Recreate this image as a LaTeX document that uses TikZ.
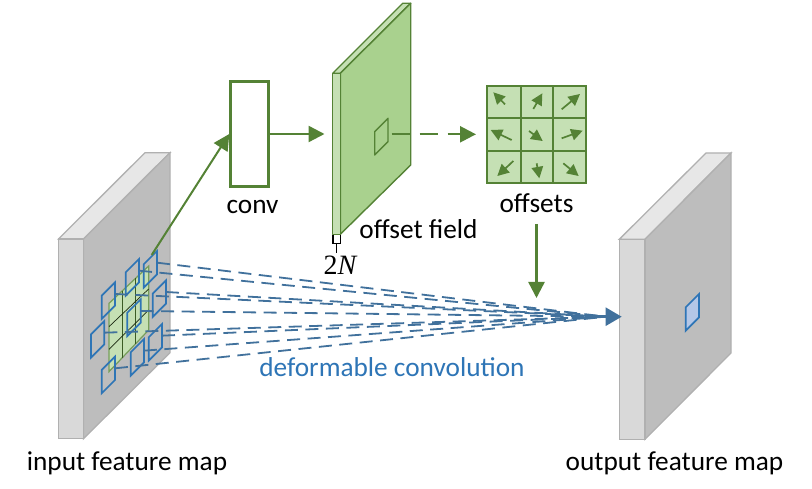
\documentclass[tikz,border=0pt]{standalone}
\usepackage{fontspec}
\setmainfont{Carlito}
\newfontfamily\serifnum{Liberation Serif}
\usetikzlibrary{arrows.meta,calc}
\definecolor{gridgreen}{HTML}{548235}
\definecolor{palegreen}{HTML}{C5E0B4}
\definecolor{midgreen}{HTML}{A9D18E}
\definecolor{frameblue}{HTML}{2E75B6}
\definecolor{rayblue}{HTML}{41719C}
\definecolor{paleblue}{HTML}{B4C7E7}
\tikzset{
  every node/.style={inner sep=0pt},
  label text/.style={font=\fontsize{27.3}{27.3}\selectfont, anchor=base, text=black},
  slab front/.style={draw=black!31, line width=1.3, fill=black!15},
  slab top/.style={draw=black!31, line width=1.3, fill=black!9.5},
  slab side/.style={draw=black!31, line width=1.3, fill=black!26},
  green line/.style={draw=gridgreen, line width=2.4},
  green arrow/.style={green line, -{Triangle[length=16, width=16]}},
  small arrow/.style={draw=gridgreen, line width=1.7, -{Triangle[length=11.5, width=11.5]}},
  blue frame/.style={draw=frameblue, line width=1.7, line join=miter},
  ray/.style={draw=rayblue, line width=1.8, dash pattern=on 13 off 7.5},
  sheet edge/.style={draw=gridgreen, line width=1.4, line join=round}
}
\begin{document}
\begin{tikzpicture}[x=1pt, y=-1pt]
\useasboundingbox (0,0) rectangle (812,489);

% input slab
\draw[slab top] (58.5,239) -- (145,152.7) -- (170,152.7) -- (83.5,239) -- cycle;
\draw[slab side] (83.5,239) -- (170,152.7) -- (170,352.7) -- (83.5,438.7) -- cycle;
\draw[slab front] (58.5,239) rectangle (83.5,438.7);

% output slab
\draw[slab top] (619.3,239.3) -- (706,153) -- (731,153) -- (645,239.3) -- cycle;
\draw[slab side] (645,239.3) -- (731,153) -- (731,353) -- (645,439.3) -- cycle;
\draw[slab front] (619.3,239.3) rectangle (645,439.3);
\draw[blue frame, fill=paleblue] (685.7,307.3) -- (699,294) -- (699,317.3) -- (685.7,330.7) -- cycle;

% convolution box
\node[draw=gridgreen, line width=2.4, fill=white, minimum width=38, minimum height=105] (conv) at (249.5,134) {};

% offset field sheet
\draw[sheet edge, fill=palegreen] (332.7,73.3) -- (402.7,3.3) -- (410.7,3.3) -- (340.3,73.3) -- cycle;
\draw[sheet edge, fill=midgreen] (340.3,73.3) -- (410.7,3.3) -- (410.7,165) -- (340.3,234.3) -- cycle;
\draw[sheet edge, fill=palegreen] (332.7,73.3) rectangle (340.3,234.3);
\draw[sheet edge, fill=midgreen] (374.7,131.7) -- (388,118.3) -- (388,141.7) -- (374.7,155) -- cycle;
\coordinate (fieldin) at (324.5,134);
\coordinate (fieldout) at (391.7,134.3);
\coordinate (gridin) at (476,134.3);

% channel depth tick
\draw[black, line width=1.2] (332.9,235) -- (332.9,243.3) -- (340.1,243.3) -- (340.1,235);
\draw[black, line width=1.2] (336.5,243.3) -- (336.5,253);
\node[font=\fontsize{28}{28}\serifnum, anchor=base] (depth) at (340,275) {2\itshape N};

% offsets grid
\begin{scope}[shift={(480,75)}, x=1/3*1pt, y=-1/3*1pt]
  \fill[palegreen] (22,32) rectangle (318,325);
  \draw[green line, line width=2] (22,32) rectangle (318,325);
  \draw[green line, line width=2] (122,32) -- (122,325) (220,32) -- (220,325)
    (22,130) -- (318,130) (22,228) -- (318,228);
  \draw[small arrow] (75,88) -- (40,52);
  \draw[small arrow] (160,102) -- (187,55);
  \draw[small arrow] (245,103) -- (300,57);
  \draw[small arrow] (95,195) -- (32,165);
  \draw[small arrow] (147,168) -- (188,198);
  \draw[small arrow] (245,190) -- (308,167);
  \draw[small arrow] (100,258) -- (52,303);
  \draw[small arrow] (170,265) -- (178,310);
  \draw[small arrow] (250,265) -- (296,303);
\end{scope}

% receptive field on the input slab
\begin{scope}[shift={(40,140)}, x=1/3*1pt, y=-1/3*1pt]
  \draw[draw=gridgreen!70!palegreen, line width=1.2, fill=palegreen]
    (207,490) -- (326,378) -- (326,570) -- (207,695) -- cycle;
  \draw[gridgreen!70!black, line width=0.9] (247,452) -- (247,653) (287,415) -- (287,612);
  \draw[black!70!gridgreen, line width=0.7] (207,560) -- (326,447) (207,628) -- (326,510);
  \coordinate (inputout) at (335,345);
  \foreach \n/\xl/\yt in {a/185/467, b/153/583, c/185/690, d/257/397, e/262/518,
                          f/272/637, g/311/373, h/338/461, i/326/592} {
    \draw[blue frame] (\xl,\yt) -- ++(40,-40) -- ++(0,70) -- ++(-40,40) -- cycle;
    \coordinate (r\n) at ($(\xl,\yt)+(40,-5)$);
  }
\end{scope}

% sampling rays towards the output
\coordinate (raysend) at (606,316.7);
\coordinate (rayshaft) at (585,316.7);
\coordinate (outputin) at (621.7,316.7);
\foreach \n in {a,b,c,d,e,f,g,h,i} {
  \draw[ray] (r\n) -- (raysend);
}
\draw[draw=rayblue, line width=2.4, -{Triangle[length=16, width=18]}] (rayshaft) -- (outputin);

% main flow
\draw[green arrow, line width=2] (inputout) -- (conv.west);
\draw[green arrow] (conv.east) -- (fieldin);
\draw[green arrow, dash pattern=on 18 off 10] (fieldout) -- (gridin);
\coordinate (gridout) at (536.5,224);
\coordinate (outputtop) at (536.5,298);
\draw[green arrow] (gridout) -- (outputtop);

% labels
\node[label text] (convlabel) at (252.5,214) {conv};
\node[label text] (fieldlabel) at (418.5,239) {offset field};
\node[label text] (offsetslabel) at (536.5,213) {offsets};
\node[label text] (inputlabel) at (127,470) {input feature map};
\node[label text] (outputlabel) at (674.5,470) {output feature map};
\node[label text, text=frameblue] (deflabel) at (392,377) {deformable convolution};
\end{tikzpicture}
\end{document}
